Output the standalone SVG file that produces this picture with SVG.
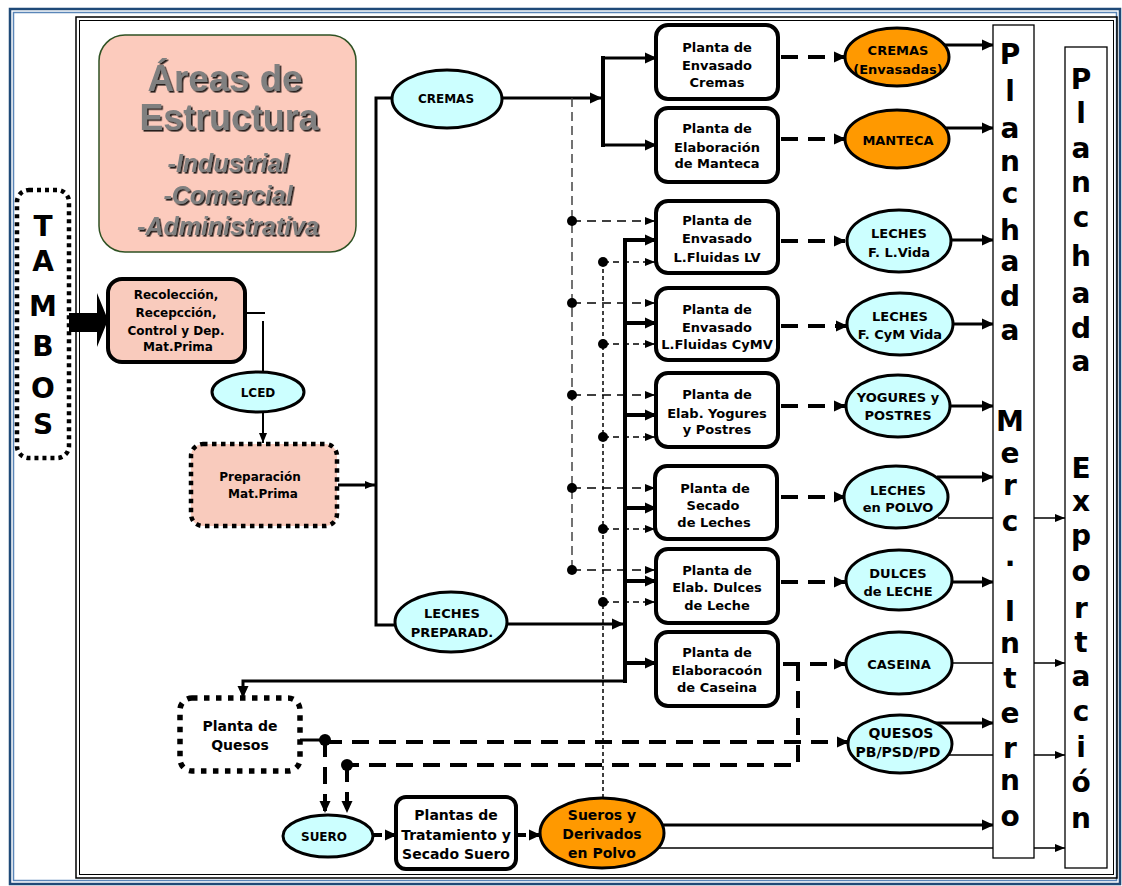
<svg xmlns="http://www.w3.org/2000/svg" width="1122" height="886" viewBox="0 0 1122 886">
<defs>
<marker id="ah" markerUnits="userSpaceOnUse" markerWidth="12" markerHeight="12" refX="11" refY="6" orient="auto"><path d="M0,0.5 L12,6 L0,11.5 z" fill="#000"/></marker>
<marker id="as" markerUnits="userSpaceOnUse" markerWidth="10" markerHeight="10" refX="10" refY="5" orient="auto"><path d="M0,1 L10,5 L0,9 z" fill="#000"/></marker>
<filter id="sh" x="-10%" y="-10%" width="120%" height="130%"><feDropShadow dx="1.6" dy="1.6" stdDeviation="0.5" flood-color="#000" flood-opacity="0.85"/></filter>
</defs>
<style>
.t{font-family:"DejaVu Sans","Liberation Sans",sans-serif;font-weight:bold;font-size:13px;text-anchor:middle;fill:#000}
.t12{font-size:12px}
.t14{font-size:14px}
.big{font-family:"DejaVu Sans","Liberation Sans",sans-serif;font-weight:bold;font-size:28px;text-anchor:middle;fill:#000}
.box{fill:#fff;stroke:#000;stroke-width:4}
.cy{fill:#ccffff;stroke:#000;stroke-width:3}
.or{fill:#ff9900;stroke:#000;stroke-width:3}
.pl{fill:#fff;stroke:#000;stroke-width:1.3}
.c{fill:none;stroke:#000}
.w2{stroke-width:2}
.w3{stroke-width:3}
.w4{stroke-width:4}
.thin{stroke-width:1.5}
.dth{stroke-dasharray:17 10}
.dg{stroke:#444;stroke-width:1.5;stroke-dasharray:9 5}
.dm{stroke-width:1.5;stroke-dasharray:9 6}
.ds{stroke-width:1.5;stroke-dasharray:4 3}
.dss{stroke-width:1.5;stroke-dasharray:6 4}
.tt{font-family:"Liberation Sans",Arial,sans-serif;font-weight:bold;fill:#808080;text-anchor:middle;filter:url(#sh)}
</style>

<g id="frame">
<rect x="10" y="9" width="1110" height="875" fill="none" stroke="#1f4a78" stroke-width="2.5"/>
<rect x="13.5" y="12.5" width="1103" height="868" fill="none" stroke="#5b86b8" stroke-width="1.5"/>
<rect x="76" y="17" width="1041" height="861" fill="none" stroke="#000" stroke-width="1.5"/>
<rect x="79.5" y="20.5" width="1034" height="854" fill="none" stroke="#000" stroke-width="1"/>
</g>

<g id="areas">
<rect x="99" y="35" width="257" height="217" rx="26" fill="#fccbbd" stroke="#2f5223" stroke-width="1.5"/>
<text class="tt" x="225" y="91" font-size="37" textLength="155" lengthAdjust="spacingAndGlyphs">Áreas de</text>
<text class="tt" x="229" y="130" font-size="37" textLength="179" lengthAdjust="spacingAndGlyphs">Estructura</text>
<text class="tt" x="228" y="172" font-size="25" font-style="italic">-Industrial</text>
<text class="tt" x="228" y="204" font-size="25" font-style="italic">-Comercial</text>
<text class="tt" x="228" y="235" font-size="25" font-style="italic">-Administrativa</text>
</g>

<g id="connectors">
<polygon points="67,313 97,313 97,293 108,320 97,347 97,332 67,332" fill="#000"/>
<path class="c w2" d="M245,313 H265"/>
<path class="c w2" d="M263,321 V372"/>
<path class="c w2" d="M263,413 V443" marker-end="url(#as)"/>
<path class="c w3" d="M338,485 H375" marker-end="url(#as)"/>
<path class="c w3" d="M392,98 H376 V625 H396"/>
<path class="c w3" d="M502,98 H601" marker-end="url(#ah)"/>
<path class="c w4" d="M603,56 V147"/>
<path class="c w3" d="M603,58 H656" marker-end="url(#ah)"/>
<path class="c w3" d="M603,145 H656" marker-end="url(#ah)"/>

<path class="c dg" d="M572,98 V570"/>
<path class="c ds" d="M603,262 V798"/>
<g fill="#000">
<circle cx="572" cy="221" r="5"/><circle cx="572" cy="303" r="5"/><circle cx="572" cy="395" r="5"/><circle cx="572" cy="488" r="5"/><circle cx="572" cy="570" r="5"/>
<circle cx="603" cy="262" r="5"/><circle cx="603" cy="344" r="5"/><circle cx="603" cy="437" r="5"/><circle cx="603" cy="529" r="5"/><circle cx="603" cy="602" r="5"/>
</g>
<path class="c dm" d="M572,221 H655" marker-end="url(#as)"/>
<path class="c dm" d="M572,303 H655" marker-end="url(#as)"/>
<path class="c dm" d="M572,395 H655" marker-end="url(#as)"/>
<path class="c dm" d="M572,488 H655" marker-end="url(#as)"/>
<path class="c dm" d="M572,570 H655" marker-end="url(#as)"/>
<path class="c dss" d="M603,262 H655" marker-end="url(#as)"/>
<path class="c dss" d="M603,344 H655" marker-end="url(#as)"/>
<path class="c dss" d="M603,437 H655" marker-end="url(#as)"/>
<path class="c dss" d="M603,529 H655" marker-end="url(#as)"/>
<path class="c dss" d="M603,602 H655" marker-end="url(#as)"/>

<path class="c w3" d="M507,624 H623" marker-end="url(#ah)"/>
<path class="c w4" d="M625,238 V683"/>
<path class="c w4" d="M625,240 H656" marker-end="url(#ah)"/>
<path class="c w4" d="M625,323 H656" marker-end="url(#ah)"/>
<path class="c w4" d="M625,415 H656" marker-end="url(#ah)"/>
<path class="c w4" d="M625,508 H656" marker-end="url(#ah)"/>
<path class="c w4" d="M625,581 H656" marker-end="url(#ah)"/>
<path class="c w4" d="M625,663 H656" marker-end="url(#ah)"/>
<path class="c w3" d="M625,681 H243 V697" marker-end="url(#ah)"/>

<path class="c w4 dth" d="M781,57 H845" marker-end="url(#ah)"/>
<path class="c w4 dth" d="M781,139 H845" marker-end="url(#ah)"/>
<path class="c w4 dth" d="M781,241 H845" marker-end="url(#ah)"/>
<path class="c w4 dth" d="M781,326 H847" marker-end="url(#ah)"/>
<path class="c w4 dth" d="M781,406 H845" marker-end="url(#ah)"/>
<path class="c w4 dth" d="M781,497 H845" marker-end="url(#ah)"/>
<path class="c w4 dth" d="M781,582 H845" marker-end="url(#ah)"/>
<path class="c w4 dth" d="M783,664 H845" marker-end="url(#ah)"/>
<path class="c w4 dth" d="M798,664 V765 H347"/>
<path class="c w4 dth" d="M347,765 V812" marker-end="url(#ah)"/>
<path class="c w3" d="M300,740 H325"/>
<path class="c w4 dth" d="M325,742 H848" marker-end="url(#ah)"/>
<path class="c w4 dth" d="M325,740 V812" marker-end="url(#ah)"/>
<circle cx="325" cy="740" r="6" fill="#000"/>
<circle cx="347" cy="765" r="6" fill="#000"/>

<path class="c w4" d="M373,835 H382 M386,835 H396" marker-end="url(#ah)"/>
<path class="c w4" d="M516,835 H526 M530,835 H540" marker-end="url(#ah)"/>

<path class="c w3" d="M943,45 H993" marker-end="url(#ah)"/>
<path class="c w3" d="M944,128 H993" marker-end="url(#ah)"/>
<path class="c w3" d="M950,240 H993" marker-end="url(#ah)"/>
<path class="c w3" d="M952,324 H993" marker-end="url(#ah)"/>
<path class="c w3" d="M949,406 H993" marker-end="url(#ah)"/>
<path class="c w3" d="M937,477 H993" marker-end="url(#ah)"/>
<path class="c w3" d="M950,582 H993" marker-end="url(#ah)"/>
<path class="c w3" d="M935,723 H993" marker-end="url(#ah)"/>
<path class="c w3" d="M662,825 H993" marker-end="url(#ah)"/>
<path class="c thin" d="M938,518 H1065" marker-end="url(#as)"/>
<path class="c thin" d="M951,663 H1065" marker-end="url(#as)"/>
<path class="c thin" d="M946,755 H1065" marker-end="url(#as)"/>
<path class="c thin" d="M658,848 H1065" marker-end="url(#as)"/>
</g>

<g id="tambos">
<rect x="17" y="190" width="52" height="268" rx="12" fill="#fff" stroke="#000" stroke-width="4.5" stroke-dasharray="4 4"/>
<text class="big" font-size="31" x="43" y="236">T</text>
<text class="big" font-size="31" x="43" y="271">A</text>
<text class="big" font-size="31" x="43" y="316">M</text>
<text class="big" font-size="31" x="43" y="356">B</text>
<text class="big" font-size="31" x="43" y="398">O</text>
<text class="big" font-size="31" x="43" y="434">S</text>
</g>

<g id="recoleccion">
<rect x="108" y="279" width="137" height="83" rx="14" fill="#f9cbbd" stroke="#000" stroke-width="4"/>
<text class="t t12" x="176" y="299">Recolección,</text>
<text class="t t12" x="176" y="317">Recepcción,</text>
<text class="t t12" x="176" y="335">Control y Dep.</text>
<text class="t t12" x="178" y="351">Mat.Prima</text>
</g>

<g id="lced">
<ellipse cx="258" cy="392" rx="46" ry="20" class="cy"/>
<text class="t t12" x="258" y="397">LCED</text>
</g>

<g id="preparacion">
<rect x="191" y="444" width="146" height="82" rx="12" fill="#f9cbbd" stroke="#000" stroke-width="4.5" stroke-dasharray="4.5 4.5"/>
<text class="t t12" x="260" y="481">Preparación</text>
<text class="t t12" x="263" y="498">Mat.Prima</text>
</g>

<g id="cremas">
<ellipse cx="447" cy="99" rx="55" ry="29" class="cy"/>
<text class="t t12" x="446" y="103">CREMAS</text>
</g>

<g id="leches-preparad">
<ellipse cx="451" cy="622" rx="56" ry="30" class="cy"/>
<text class="t" x="452" y="618">LECHES</text>
<text class="t" x="452" y="637">PREPARAD.</text>
</g>

<g id="p-env-cremas"><rect x="656" y="25" width="122" height="74" rx="12" class="box"/>
<text class="t" x="717" y="52">Planta de</text><text class="t" x="717" y="70">Envasado</text><text class="t" x="717" y="87">Cremas</text></g>
<g id="p-manteca"><rect x="656" y="108" width="122" height="74" rx="12" class="box"/>
<text class="t" x="717" y="133">Planta de</text><text class="t" x="717" y="152">Elaboración</text><text class="t" x="717" y="168">de Manteca</text></g>
<g id="p-lv"><rect x="656" y="201" width="122" height="72" rx="12" class="box"/>
<text class="t" x="717" y="225">Planta de</text><text class="t" x="717" y="243">Envasado</text><text class="t" x="717" y="262">L.Fluidas LV</text></g>
<g id="p-cymv"><rect x="656" y="288" width="122" height="72" rx="12" class="box"/>
<text class="t" x="717" y="314">Planta de</text><text class="t" x="717" y="332">Envasado</text><text class="t" x="717" y="349">L.Fluidas CyMV</text></g>
<g id="p-yogures"><rect x="656" y="373" width="122" height="74" rx="12" class="box"/>
<text class="t" x="717" y="399">Planta de</text><text class="t" x="717" y="418">Elab. Yogures</text><text class="t" x="717" y="434">y Postres</text></g>
<g id="p-secado"><rect x="655" y="466" width="122" height="73" rx="12" class="box"/>
<text class="t" x="715" y="493">Planta de</text><text class="t" x="713" y="510">Secado</text><text class="t" x="714" y="527">de Leches</text></g>
<g id="p-dulces"><rect x="656" y="549" width="122" height="74" rx="12" class="box"/>
<text class="t" x="717" y="575">Planta de</text><text class="t" x="717" y="592">Elab. Dulces</text><text class="t" x="717" y="610">de Leche</text></g>
<g id="p-caseina"><rect x="656" y="632" width="122" height="74" rx="12" class="box"/>
<text class="t" x="717" y="657">Planta de</text><text class="t" x="717" y="675">Elaboracoón</text><text class="t" x="717" y="692">de Caseina</text></g>

<g id="o-cremas"><ellipse cx="897" cy="57" rx="52" ry="29" class="or"/>
<text class="t" x="898" y="55">CREMAS</text><text class="t" x="898" y="74">(Envasadas)</text></g>
<g id="o-manteca"><ellipse cx="897" cy="139" rx="52" ry="29" class="or"/>
<text class="t" x="898" y="145">MANTECA</text></g>
<g id="c-lv"><ellipse cx="899" cy="241" rx="52" ry="31" class="cy"/>
<text class="t" x="899" y="238">LECHES</text><text class="t" x="899" y="257">F. L.Vida</text></g>
<g id="c-cym"><ellipse cx="900" cy="324" rx="53" ry="31" class="cy"/>
<text class="t" x="900" y="321">LECHES</text><text class="t" x="900" y="339">F. CyM Vida</text></g>
<g id="c-yog"><ellipse cx="898" cy="406" rx="52" ry="31" class="cy"/>
<text class="t" x="898" y="402">YOGURES y</text><text class="t" x="898" y="420">POSTRES</text></g>
<g id="c-polvo"><ellipse cx="896" cy="497" rx="52" ry="31" class="cy"/>
<text class="t" x="898" y="495">LECHES</text><text class="t" x="898" y="512">en POLVO</text></g>
<g id="c-dulces"><ellipse cx="899" cy="580" rx="53" ry="30" class="cy"/>
<text class="t" x="898" y="578">DULCES</text><text class="t" x="898" y="596">de LECHE</text></g>
<g id="c-caseina"><ellipse cx="899" cy="663" rx="53" ry="31" class="cy"/>
<text class="t" x="899" y="669">CASEINA</text></g>
<g id="c-quesos"><ellipse cx="900" cy="744" rx="52" ry="29" class="cy"/>
<text class="t t14" x="901" y="738">QUESOS</text><text class="t t14" x="898" y="757">PB/PSD/PD</text></g>

<g id="p-quesos">
<rect x="180" y="698" width="120" height="73" rx="12" fill="#fff" stroke="#000" stroke-width="5.5" stroke-dasharray="5.5 6.5"/>
<text class="t t14" x="240" y="731">Planta de</text>
<text class="t t14" x="240" y="750">Quesos</text>
</g>

<g id="suero">
<ellipse cx="328" cy="836" rx="45" ry="21" class="cy"/>
<text class="t t12" x="324" y="841">SUERO</text>
</g>

<g id="p-tratamiento">
<rect x="396" y="797" width="120" height="72" rx="10" class="box"/>
<text class="t t14" x="456" y="820">Plantas de</text>
<text class="t t14" x="456" y="840">Tratamiento y</text>
<text class="t t14" x="456" y="859">Secado Suero</text>
</g>

<g id="sueros-derivados">
<ellipse cx="602" cy="833" rx="62" ry="35" class="or"/>
<text class="t t14" x="602" y="820">Sueros y</text>
<text class="t t14" x="602" y="839">Derivados</text>
<text class="t t14" x="602" y="858">en Polvo</text>
</g>

<g id="merc-interno">
<rect x="993" y="25" width="41" height="833" class="pl"/>
<text class="big" x="1010" y="64">P</text>
<text class="big" x="1010" y="101">l</text>
<text class="big" x="1010" y="138">a</text>
<text class="big" x="1010" y="171">n</text>
<text class="big" x="1010" y="203">c</text>
<text class="big" x="1010" y="240">h</text>
<text class="big" x="1010" y="271">a</text>
<text class="big" x="1010" y="306">d</text>
<text class="big" x="1010" y="340">a</text>
<text class="big" x="1010" y="431">M</text>
<text class="big" x="1010" y="463">e</text>
<text class="big" x="1010" y="495">r</text>
<text class="big" x="1010" y="531">c</text>
<text class="big" x="1010" y="566">.</text>
<text class="big" x="1010" y="621">I</text>
<text class="big" x="1010" y="653">n</text>
<text class="big" x="1010" y="688">t</text>
<text class="big" x="1010" y="723">e</text>
<text class="big" x="1010" y="758">r</text>
<text class="big" x="1010" y="790">n</text>
<text class="big" x="1010" y="826">o</text>
</g>

<g id="exportacion">
<rect x="1065" y="47" width="42" height="821" class="pl"/>
<text class="big" x="1081" y="89">P</text>
<text class="big" x="1081" y="123">l</text>
<text class="big" x="1081" y="158">a</text>
<text class="big" x="1081" y="192">n</text>
<text class="big" x="1081" y="227">c</text>
<text class="big" x="1081" y="266">h</text>
<text class="big" x="1081" y="303">a</text>
<text class="big" x="1081" y="338">d</text>
<text class="big" x="1081" y="371">a</text>
<text class="big" x="1081" y="478">E</text>
<text class="big" x="1081" y="511">x</text>
<text class="big" x="1081" y="545">p</text>
<text class="big" x="1081" y="581">o</text>
<text class="big" x="1081" y="618">r</text>
<text class="big" x="1081" y="652">t</text>
<text class="big" x="1081" y="686">a</text>
<text class="big" x="1081" y="721">c</text>
<text class="big" x="1081" y="757">i</text>
<text class="big" x="1081" y="792">ó</text>
<text class="big" x="1081" y="828">n</text>
</g>
</svg>
